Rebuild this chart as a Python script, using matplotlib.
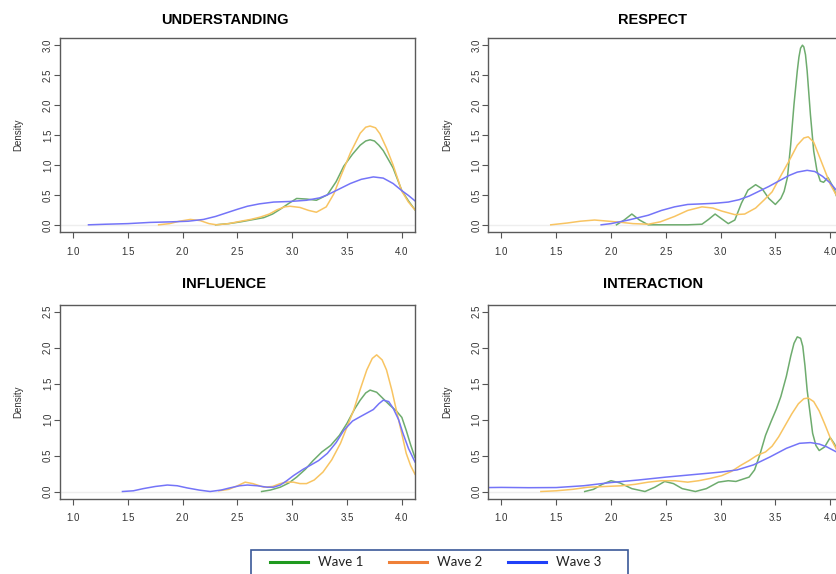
import matplotlib
matplotlib.use("Agg")
import matplotlib.pyplot as plt
from matplotlib.lines import Line2D
from matplotlib.patches import Rectangle

plt.rcParams['font.family'] = ['Liberation Sans', 'DejaVu Sans']

# --- data (density estimates per wave) ---
und_w1_x = [2.30, 2.42, 2.53, 2.65, 2.74, 2.82, 2.89, 2.97, 3.04, 3.13, 3.22, 3.32, 3.40, 3.47,
            3.55, 3.62, 3.67, 3.71, 3.75, 3.79, 3.83, 3.88, 3.92, 4.00, 4.06, 4.12]
und_w1_y = [0.0, 0.02, 0.05, 0.09, 0.12, 0.18, 0.26, 0.36, 0.44, 0.43, 0.41, 0.50, 0.72, 0.98,
            1.18, 1.33, 1.40, 1.42, 1.40, 1.33, 1.24, 1.08, 0.95, 0.57, 0.40, 0.25]
und_w2_x = [1.78, 1.88, 1.97, 2.07, 2.16, 2.24, 2.31, 2.42, 2.53, 2.62, 2.71, 2.79, 2.86, 2.93,
            2.98, 3.07, 3.15, 3.22, 3.31, 3.38, 3.44, 3.53, 3.62, 3.67, 3.71, 3.76, 3.80, 3.86,
            3.92, 4.00, 4.06, 4.12]
und_w2_y = [0.0, 0.02, 0.06, 0.09, 0.07, 0.02, 0.0, 0.02, 0.06, 0.09, 0.13, 0.18, 0.25, 0.30,
            0.31, 0.29, 0.24, 0.21, 0.30, 0.52, 0.80, 1.20, 1.53, 1.63, 1.65, 1.62, 1.52, 1.28,
            1.00, 0.56, 0.38, 0.25]
und_w3_x = [1.14, 1.30, 1.50, 1.70, 1.90, 2.05, 2.19, 2.30, 2.40, 2.50, 2.59, 2.70, 2.83, 2.98,
            3.13, 3.25, 3.32, 3.42, 3.53, 3.63, 3.74, 3.83, 3.92, 4.00, 4.06, 4.12]
und_w3_y = [0.0, 0.01, 0.02, 0.04, 0.05, 0.06, 0.09, 0.14, 0.20, 0.26, 0.31, 0.35, 0.38, 0.39,
            0.41, 0.45, 0.50, 0.59, 0.69, 0.76, 0.80, 0.78, 0.69, 0.57, 0.49, 0.40]

res_w1_x = [2.05, 2.12, 2.19, 2.26, 2.34, 2.50, 2.70, 2.83, 2.89, 2.95, 3.01, 3.07, 3.13, 3.19,
            3.25, 3.32, 3.38, 3.44, 3.50, 3.55, 3.58, 3.61, 3.64, 3.67, 3.70, 3.715, 3.73, 3.747,
            3.76, 3.775, 3.79, 3.82, 3.85, 3.88, 3.91, 3.94, 3.98, 4.03, 4.07]
res_w1_y = [0.0, 0.08, 0.18, 0.08, 0.0, 0.0, 0.0, 0.01, 0.09, 0.18, 0.10, 0.02, 0.08, 0.36,
            0.58, 0.67, 0.60, 0.44, 0.34, 0.44, 0.56, 0.79, 1.34, 2.01, 2.57, 2.80, 2.95, 3.00,
            2.97, 2.84, 2.57, 1.84, 1.23, 0.90, 0.73, 0.71, 0.79, 0.62, 0.42]
res_w2_x = [1.45, 1.60, 1.72, 1.85, 1.98, 2.10, 2.20, 2.34, 2.45, 2.58, 2.70, 2.83, 2.93, 3.01,
            3.13, 3.22, 3.32, 3.40, 3.47, 3.55, 3.62, 3.70, 3.76, 3.80, 3.85, 3.91, 4.00, 4.07]
res_w2_y = [0.0, 0.03, 0.06, 0.08, 0.06, 0.04, 0.02, 0.01, 0.05, 0.14, 0.24, 0.30, 0.28, 0.23,
            0.17, 0.18, 0.28, 0.42, 0.55, 0.82, 1.05, 1.33, 1.45, 1.47, 1.38, 1.10, 0.68, 0.45]
res_w3_x = [1.91, 2.00, 2.16, 2.34, 2.46, 2.58, 2.70, 2.83, 2.95, 3.07, 3.17, 3.26, 3.35, 3.44,
            3.53, 3.62, 3.70, 3.79, 3.86, 3.93, 4.00, 4.07]
res_w3_y = [0.0, 0.02, 0.08, 0.16, 0.24, 0.30, 0.34, 0.35, 0.36, 0.38, 0.42, 0.48, 0.56, 0.64,
            0.73, 0.82, 0.88, 0.91, 0.89, 0.81, 0.70, 0.55]

inf_w1_x = [2.72, 2.80, 2.89, 2.97, 3.04, 3.12, 3.19, 3.27, 3.35, 3.43, 3.50, 3.57, 3.62, 3.67,
            3.71, 3.77, 3.83, 3.89, 3.95, 4.00, 4.04, 4.08, 4.12]
inf_w1_y = [0.0, 0.02, 0.06, 0.12, 0.20, 0.31, 0.43, 0.55, 0.64, 0.78, 0.95, 1.15, 1.27, 1.37,
            1.41, 1.38, 1.29, 1.20, 1.12, 1.03, 0.85, 0.65, 0.47]
inf_w2_x = [2.33, 2.42, 2.50, 2.57, 2.64, 2.74, 2.82, 2.89, 2.95, 3.01, 3.07, 3.13, 3.20, 3.28,
            3.36, 3.44, 3.50, 3.56, 3.62, 3.68, 3.73, 3.77, 3.82, 3.86, 3.91, 3.95, 4.00, 4.04,
            4.08, 4.12]
inf_w2_y = [0.01, 0.03, 0.08, 0.13, 0.11, 0.06, 0.07, 0.11, 0.13, 0.13, 0.11, 0.11, 0.16, 0.27,
            0.44, 0.67, 0.90, 1.13, 1.42, 1.69, 1.85, 1.90, 1.83, 1.69, 1.40, 1.13, 0.80, 0.53,
            0.36, 0.24]
inf_w3_x = [1.45, 1.55, 1.64, 1.75, 1.86, 1.95, 2.04, 2.15, 2.25, 2.35, 2.43, 2.52, 2.59, 2.68,
            2.77, 2.83, 2.89, 2.95, 3.01, 3.10, 3.16, 3.24, 3.32, 3.40, 3.47, 3.55, 3.62, 3.68,
            3.74, 3.79, 3.83, 3.88, 3.92, 3.97, 4.01, 4.06, 4.12]
inf_w3_y = [0.0, 0.01, 0.04, 0.07, 0.09, 0.08, 0.05, 0.02, 0.0, 0.02, 0.05, 0.08, 0.09, 0.08,
            0.06, 0.06, 0.09, 0.15, 0.22, 0.31, 0.36, 0.43, 0.53, 0.68, 0.85, 0.98, 1.04, 1.09,
            1.14, 1.22, 1.27, 1.25, 1.16, 1.00, 0.81, 0.60, 0.41]

int_w1_x = [1.76, 1.84, 1.92, 2.00, 2.08, 2.19, 2.31, 2.40, 2.49, 2.57, 2.65, 2.77, 2.87, 2.98,
            3.07, 3.14, 3.20, 3.26, 3.31, 3.36, 3.41, 3.46, 3.51, 3.55, 3.60, 3.64, 3.67, 3.70,
            3.73, 3.75, 3.77, 3.79, 3.82, 3.84, 3.87, 3.90, 3.95, 4.00, 4.04, 4.07]
int_w1_y = [0.0, 0.03, 0.10, 0.15, 0.12, 0.04, 0.0, 0.06, 0.14, 0.11, 0.04, 0.0, 0.04, 0.13,
            0.15, 0.14, 0.17, 0.20, 0.30, 0.52, 0.78, 0.97, 1.15, 1.32, 1.60, 1.88, 2.06, 2.15,
            2.13, 2.02, 1.75, 1.41, 1.05, 0.81, 0.64, 0.57, 0.62, 0.75, 0.66, 0.55]
int_w2_x = [1.36, 1.50, 1.65, 1.79, 1.95, 2.10, 2.22, 2.34, 2.46, 2.58, 2.70, 2.80, 2.90, 3.01,
            3.10, 3.18, 3.26, 3.33, 3.41, 3.47, 3.53, 3.59, 3.65, 3.71, 3.76, 3.80, 3.85, 3.90,
            3.95, 4.00, 4.07]
int_w2_y = [0.0, 0.01, 0.03, 0.06, 0.07, 0.08, 0.10, 0.13, 0.15, 0.15, 0.13, 0.15, 0.18, 0.22,
            0.28, 0.36, 0.43, 0.50, 0.55, 0.63, 0.76, 0.92, 1.08, 1.22, 1.29, 1.30, 1.25, 1.12,
            0.94, 0.75, 0.55]
int_w3_x = [0.88, 1.00, 1.25, 1.50, 1.75, 2.00, 2.25, 2.50, 2.75, 3.00, 3.15, 3.30, 3.45, 3.60,
            3.72, 3.82, 3.90, 3.97, 4.07]
int_w3_y = [0.055, 0.057, 0.053, 0.055, 0.08, 0.125, 0.16, 0.20, 0.235, 0.27, 0.30, 0.37, 0.48,
            0.60, 0.67, 0.68, 0.66, 0.62, 0.54]

titles = ['UNDERSTANDING', 'RESPECT', 'INFLUENCE', 'INTERACTION']
wave_labels = ['Wave 1', 'Wave 2', 'Wave 3']
curve_colors = ['#6eac6e', '#f8c462', '#7474f8']
legend_colors = ['#1f9a1f', '#ef8038', '#2040f8']

panels = [
    [(und_w1_x, und_w1_y), (und_w2_x, und_w2_y), (und_w3_x, und_w3_y)],
    [(res_w1_x, res_w1_y), (res_w2_x, res_w2_y), (res_w3_x, res_w3_y)],
    [(inf_w1_x, inf_w1_y), (inf_w2_x, inf_w2_y), (inf_w3_x, inf_w3_y)],
    [(int_w1_x, int_w1_y), (int_w2_x, int_w2_y), (int_w3_x, int_w3_y)],
]

W, H = 837, 574
fig = plt.figure(figsize=(W / 100, H / 100), dpi=100)

# pixel layout: (left, top, bottom) of each plot box, ymax, title centre, label x
boxes = [
    (60.0, 38.0, 232.0, 3.0, (225, 20), 18),
    (488.3, 38.0, 232.0, 3.0, (653, 20), 447),
    (60.0, 304.5, 498.7, 2.5, (224, 284), 18),
    (488.3, 304.5, 498.7, 2.5, (653, 284), 447),
]
box_w = 355.0

for i, (left, top, bottom, ymax, tpos, lab_x) in enumerate(boxes):
    ax = fig.add_axes([left / W, 1 - bottom / H, box_w / W, (bottom - top) / H])
    ax.axhline(0, color='#eeeeee', lw=1, zorder=0)
    for (xs, ys), c in zip(panels[i], curve_colors):
        ax.plot(xs, ys, color=c, lw=1.1, solid_joinstyle='round')
    ax.set_xlim(0.88, 4.12)
    ax.set_ylim(-0.04 * ymax, ymax * 1.04)
    ax.set_xticks([1.0, 1.5, 2.0, 2.5, 3.0, 3.5, 4.0])
    ax.set_xticklabels(['1.0', '1.5', '2.0', '2.5', '3.0', '3.5', '4.0'])
    yt = [k * 0.5 for k in range(int(ymax / 0.5) + 1)]
    ax.set_yticks(yt)
    ax.set_yticklabels(['%.1f' % v for v in yt], rotation=90, va='center')
    ax.tick_params(axis='x', length=4, width=0.8, pad=6.5, labelsize=7,
                   colors='#555555', labelcolor='#333333')
    ax.tick_params(axis='y', length=4, width=0.8, pad=1, labelsize=7,
                   colors='#555555', labelcolor='#333333')
    for s in ax.spines.values():
        s.set_color('#5a5a5a')
        s.set_linewidth(1.0)
    fig.text(tpos[0] / W, 1 - tpos[1] / H, titles[i], ha='center', va='center',
             fontsize=10.5, fontweight='bold', color='black')
    fig.text(lab_x / W, 1 - ((top + bottom) / 2) / H, 'Density', rotation=90,
             ha='center', va='center', fontsize=7, color='#333333')

# legend box at the bottom (cut by the image edge like in the reference)
fig.patches.append(Rectangle((251 / W, -10 / H), 377 / W, (584 - 550) / H,
                             transform=fig.transFigure, fill=False,
                             edgecolor='#3b5998', lw=1.2))
leg_y = 1 - 562 / H
line_starts = [270, 389, 508]
for x0, c, lab in zip(line_starts, legend_colors, wave_labels):
    fig.lines.append(Line2D([x0 / W, (x0 + 38) / W], [leg_y, leg_y],
                            transform=fig.transFigure, color=c, lw=2.2))
    fig.text((x0 + 48) / W, leg_y, lab, ha='left', va='center', fontsize=9.5,
             family=['Lato', 'DejaVu Sans'], color='#222222')

fig.savefig('out.png', dpi=100)
